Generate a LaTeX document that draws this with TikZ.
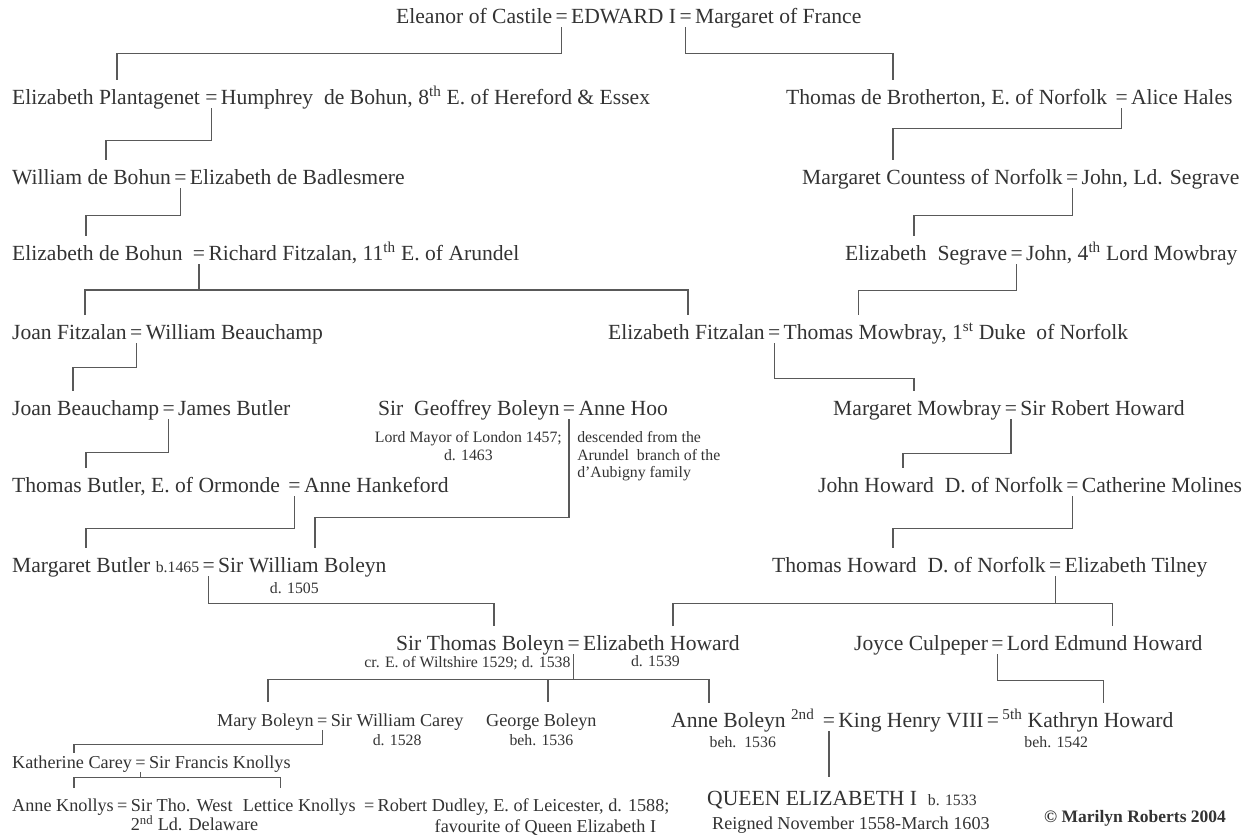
\documentclass[tikz,border=0pt]{standalone}
\usepackage{fontspec}
\setmainfont{Liberation Serif}
\usetikzlibrary{positioning}

\newcommand{\bigname}{\fontsize{21.6}{25}\selectfont}
\newcommand{\smallname}{\fontsize{18.2}{21}\selectfont}
\newcommand{\notename}{\fontsize{15.8}{17.5}\selectfont}

\begin{document}
\begin{tikzpicture}[x=1pt,y=1pt,
  person/.style={inner sep=0pt,font=\bigname,text=black!80},
  eq/.style={inner xsep=0.3em,inner ysep=4pt,font=\bigname,text=black!80},
  sperson/.style={inner sep=0pt,font=\smallname,text=black!80},
  seq/.style={inner xsep=0.3em,inner ysep=4pt,font=\smallname,text=black!80},
  note/.style={inner sep=0pt,font=\notename,text=black!80},
  link/.style={draw=black!65,line width=1.3pt}]

\fill[white] (0,0) rectangle (1256,-838);
\path[use as bounding box] (0,0) rectangle (1256,-838);

% Edward I
\node[person, anchor=base west] (eleanor) at (396,-23) {Eleanor of Castile};
\node[eq, base right=0pt of eleanor] (eqA1) {=};
\node[person, base right=0pt of eqA1] (edward) {EDWARD I};
\node[eq, base right=0pt of edward] (eqA2) {=};
\node[person, base right=0pt of eqA2] (margF) {Margaret of France};

% second row
\node[person, anchor=base west] (elizP) at (12,-104) {Elizabeth Plantagenet};
\node[eq, base right=2pt of elizP] (eqB1) {=};
\node[person, base right=0pt of eqB1] (humphrey) {Humphrey\ \ de Bohun, 8\textsuperscript{th} E. of Hereford \& Essex};
\node[person, anchor=base west] (brotherton) at (786,-104) {Thomas de Brotherton, E. of Norfolk};
\node[eq, base right=5pt of brotherton] (eqB2) {=};
\node[person, base right=0pt of eqB2] (aliceH) {Alice Hales};

\node[person, anchor=base west] (williamB) at (12,-184) {William de Bohun};
\node[eq, base right=0pt of williamB] (eqC1) {=};
\node[person, base right=0pt of eqC1] (badlesmere) {Elizabeth de Badlesmere};
\node[person, anchor=base west] (margN) at (802,-184) {Margaret Countess of Norfolk};
\node[eq, base right=0pt of margN] (eqC2) {=};
\node[person, base right=0pt of eqC2] (segraveJ) {John, Ld. Segrave};

\node[person, anchor=base west] (elizB) at (12,-260) {Elizabeth de Bohun};
\node[eq, base right=7pt of elizB] (eqD1) {=};
\node[person, base right=0pt of eqD1] (richard) {Richard Fitzalan, 11\textsuperscript{th} E. of Arundel};
\node[person, anchor=base west] (elizS) at (845,-260) {Elizabeth\ \ Segrave};
\node[eq, base right=0pt of elizS] (eqD2) {=};
\node[person, base right=0pt of eqD2] (johnM) {John, 4\textsuperscript{th} Lord Mowbray};

\node[person, anchor=base west] (joanF) at (12,-339) {Joan Fitzalan};
\node[eq, base right=0pt of joanF] (eqE1) {=};
\node[person, base right=0pt of eqE1] (williamBe) {William Beauchamp};
\node[person, anchor=base west] (elizF) at (608,-339) {Elizabeth Fitzalan};
\node[eq, base right=0pt of elizF] (eqE2) {=};
\node[person, base right=0pt of eqE2] (thomasM) {Thomas Mowbray, 1\textsuperscript{st} Duke\ \ of Norfolk};

\node[person, anchor=base west] (joanB) at (12,-415) {Joan Beauchamp};
\node[eq, base right=0pt of joanB] (eqF1) {=};
\node[person, base right=0pt of eqF1] (jamesB) {James Butler};
\node[person, anchor=base west] (geoffrey) at (378,-415) {Sir\ \ Geoffrey Boleyn};
\node[eq, base right=0pt of geoffrey] (eqF2) {=};
\node[person, base right=0pt of eqF2] (anneH) {Anne Hoo};
\node[note, anchor=north east, align=center] (mayor) at ([shift={(-7,-12)}]eqF2.south) {Lord Mayor of London 1457;\\ d. 1463};
\node[note, anchor=north west, align=left] (arundelN) at ([shift={(8,-12)}]eqF2.south) {descended from the\\ Arundel\ \ branch of the\\ d’Aubigny family};
\node[person, anchor=base west] (margMo) at (833,-415) {Margaret Mowbray};
\node[eq, base right=0pt of margMo] (eqF3) {=};
\node[person, base right=0pt of eqF3] (robertH) {Sir Robert Howard};

\node[person, anchor=base west] (thomasBu) at (12,-492) {Thomas Butler, E. of Ormonde};
\node[eq, base right=5pt of thomasBu] (eqG1) {=};
\node[person, base right=0pt of eqG1] (anneHa) {Anne Hankeford};
\node[person, anchor=base west] (johnH) at (818,-492) {John Howard\ \ D. of Norfolk};
\node[eq, base right=0pt of johnH] (eqG2) {=};
\node[person, base right=0pt of eqG2] (catherineM) {Catherine Molines};

\node[person, anchor=base west] (margB) at (12,-572) {Margaret Butler {\notename b.1465}};
\node[eq, base right=0pt of margB] (eqH1) {=};
\node[person, base right=0pt of eqH1] (williamBo) {Sir William Boleyn};
\node[note, below=5pt of williamBo, xshift=-8pt] (williamBoD) {d. 1505};
\node[person, anchor=base west] (thomasH) at (772,-572) {Thomas Howard\ \ D. of Norfolk};
\node[eq, base right=0pt of thomasH] (eqH2) {=};
\node[person, base right=0pt of eqH2] (tilney) {Elizabeth Tilney};

\node[person, anchor=base west] (thomasBo) at (396,-650) {Sir Thomas Boleyn};
\node[eq, base right=0pt of thomasBo] (eqI1) {=};
\node[person, base right=0pt of eqI1] (elizH) {Elizabeth Howard};
\node[note, anchor=north east] (wiltshire) at ([shift={(-3,-2)}]eqI1.south) {cr. E. of Wiltshire 1529; d. 1538};
\node[note, below=5pt of elizH, xshift=-6pt] (elizHD) {d. 1539};
\node[person, anchor=base west] (joyce) at (854,-650) {Joyce Culpeper};
\node[eq, base right=0pt of joyce] (eqI2) {=};
\node[person, base right=0pt of eqI2] (edmund) {Lord Edmund Howard};

% children of Sir Thomas Boleyn
\node[sperson, anchor=base west] (maryB) at (217,-726) {Mary Boleyn};
\node[seq, base right=0pt of maryB] (eqJ1) {=};
\node[sperson, base right=0pt of eqJ1] (careyW) {Sir William Carey};
\node[note, below=4pt of careyW] (careyWD) {d. 1528};
\node[sperson, anchor=base west] (george) at (486,-726) {George Boleyn};
\node[note, below=4pt of george] (georgeD) {beh. 1536};
\node[person, anchor=base west] (anneB) at (671,-727) {Anne Boleyn \textsuperscript{2nd}};
\node[eq, base right=5pt of anneB] (eqJ2) {=};
\node[person, base right=0pt of eqJ2] (henry) {King Henry VIII};
\node[eq, base right=0pt of henry] (eqJ3) {=};
\node[person, base right=0pt of eqJ3] (kathrynH) {\textsuperscript{5th} Kathryn Howard};
\node[note, below=4pt of anneB] (anneBD) {beh.\ \ 1536};
\node[note, anchor=north west] (kathrynHD) at ([shift={(22,-4)}]kathrynH.south west) {beh. 1542};

\node[sperson, anchor=base west] (katherineC) at (12,-768) {Katherine Carey};
\node[seq, base right=0pt of katherineC] (eqK) {=};
\node[sperson, base right=0pt of eqK] (francisK) {Sir Francis Knollys};

\node[sperson, anchor=base west] (anneK) at (12,-811) {Anne Knollys};
\node[seq, base right=0pt of anneK] (eqL1) {=};
\node[sperson, base right=0pt of eqL1] (westT) {Sir Tho. West};
\node[sperson, anchor=north west] (delaware) at ([yshift=-4]westT.south west) {2\textsuperscript{nd} Ld. Delaware};
\node[sperson, base right=10pt of westT] (lettice) {Lettice Knollys};
\node[seq, base right=5pt of lettice] (eqL2) {=};
\node[sperson, base right=0pt of eqL2] (dudley) {Robert Dudley, E. of Leicester, d. 1588;};
\node[sperson, anchor=north west] (favourite) at ([shift={(57,-4)}]dudley.south west) {favourite of Queen Elizabeth I};

\node[person, anchor=base west] (queen) at (707,-805) {QUEEN ELIZABETH I\ \ {\notename b. 1533}};
\node[sperson, anchor=base west] (reigned) at (712,-829) {Reigned November 1558-March 1603};

\node[anchor=base west, inner sep=0pt, font=\fontsize{17.5}{20}\selectfont\bfseries, text=black!80] (copyright) at (1044,-822) {© Marilyn Roberts 2004};

% lines of descent
\draw[link] (eqA1.south) -- ++(0,-26) -| ([shift={(105,24)}]elizP.base west);
\draw[link] (eqA2.south) -- ++(0,-26) -| ([shift={(107,24)}]brotherton.base west);
\draw[link] (eqB1.south) -- ++(0,-32) -| ([shift={(94,24)}]williamB.base west);
\draw[link] (eqB2.south) -- ++(0,-20) -| ([shift={(91,24)}]margN.base west);
\draw[link] (eqC1.south) -- ++(0,-27) -| ([shift={(74,24)}]elizB.base west);
\draw[link] (eqC2.south) -- ++(0,-27) -| ([shift={(69,24)}]elizS.base west);
\draw[link] (eqD1.south) -- ++(0,-26);
\draw[link] ([shift={(73,24)}]joanF.base west) -- ++(0,25) -| ([shift={(80,24)}]elizF.base west);
\draw[link] (eqD2.south) -- ++(0,-26) -| ([shift={(75,24)}]thomasM.base west);
\draw[link] (eqE1.south) -- ++(0,-24) -| ([shift={(61,24)}]joanB.base west);
\draw[link] (eqE2.south) -- ++(0,-35) -| ([shift={(81,24)}]margMo.base west);
\draw[link] (eqF1.south) -- ++(0,-33) -| ([shift={(74,24)}]thomasBu.base west);
\draw[link] (eqF2.south) -- ++(0,-98) -| ([shift={(97,24)}]williamBo.base west);
\draw[link] (eqF3.south) -- ++(0,-34) -| ([shift={(85,24)}]johnH.base west);
\draw[link] (eqG1.south) -- ++(0,-32) -| ([shift={(74,24)}]margB.base west);
\draw[link] (eqG2.south) -- ++(0,-32) -| ([shift={(121,24)}]thomasH.base west);
\draw[link] (eqH1.south) -- ++(0,-27) -| ([shift={(98,24)}]thomasBo.base west);
\draw[link] (eqH2.south) -- ++(0,-27) coordinate (tilneyKids);
\draw[link] ([shift={(90,24)}]elizH.base west) |- (tilneyKids) -| ([shift={(106,24)}]edmund.base west);
\draw[link] (eqI1.south) -- ++(0,-25) coordinate (boleynKids);
\draw[link] ([shift={(51,24)}]maryB.base west) |- (boleynKids) -| ([shift={(38,24)}]anneB.base west);
\draw[link] ([shift={(62,24)}]george.base west) -- ++(0,23);
\draw[link] (eqI2.south) -- ++(0,-26) -| ([shift={(101,24)}]kathrynH.base west);
\draw[link] (eqJ1.south) -- ++(0,-14) -| ([shift={(62,15)}]katherineC.base west);
\draw[link] (eqK.south) -- ++(0,-5) coordinate (careyKids);
\draw[link] ([shift={(62,23)}]anneK.base west) |- (careyKids) -| ([shift={(38,23)}]lettice.base west);
\draw[link] (eqJ2.south) -- ++(0,-46);

\end{tikzpicture}
\end{document}
